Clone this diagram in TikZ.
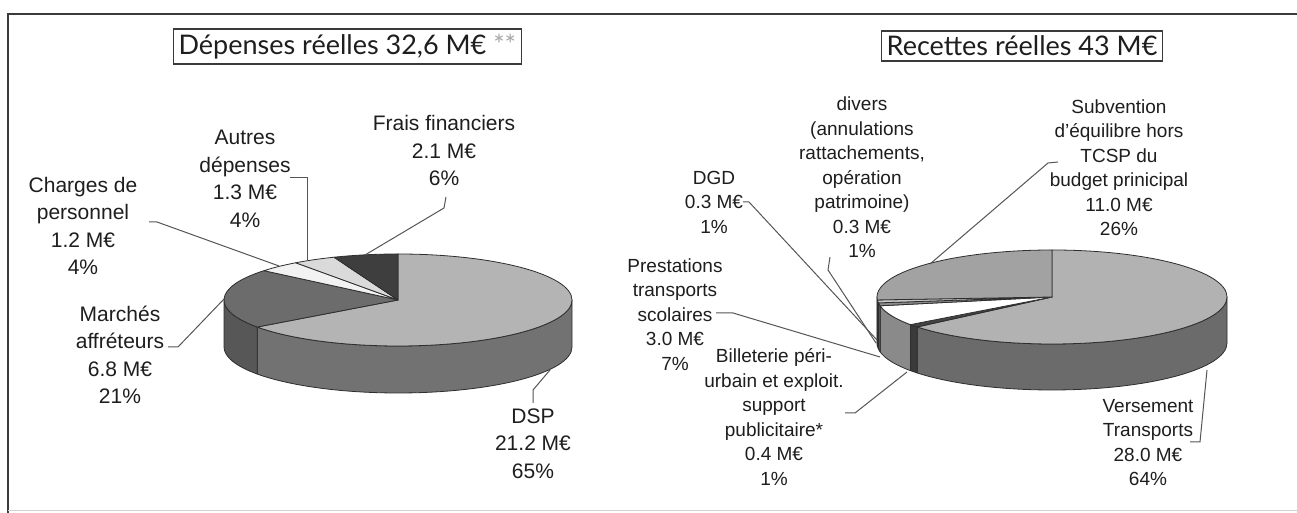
\documentclass[tikz,border=0pt]{standalone}
\usepackage{fontspec}
\setmainfont{Liberation Sans}
\newfontfamily\titlefont{Lato}
\usepackage{xcolor}
\definecolor{ink}{HTML}{1E1E1E}
\definecolor{framec}{HTML}{3A3A3A}
\definecolor{leadc}{HTML}{555555}
\definecolor{edgec}{HTML}{2E2E2E}
\definecolor{dspT}{HTML}{B4B4B4}
\definecolor{dspS}{HTML}{727272}
\definecolor{marT}{HTML}{6C6C6C}
\definecolor{marS}{HTML}{575757}
\definecolor{chgT}{HTML}{F2F2F2}
\definecolor{autT}{HTML}{DADADA}
\definecolor{fraT}{HTML}{3E3E3E}
\definecolor{vtT}{HTML}{B2B2B2}
\definecolor{vtS}{HTML}{6B6B6B}
\definecolor{subT}{HTML}{A2A2A2}
\definecolor{subS}{HTML}{7A7A7A}
\definecolor{preT}{HTML}{FFFFFF}
\definecolor{preS}{HTML}{8A8A8A}
\definecolor{bilT}{HTML}{444444}
\definecolor{bilS}{HTML}{3A3A3A}
\definecolor{dgdT}{HTML}{8C8C8C}
\definecolor{dgdS}{HTML}{666666}
\definecolor{divT}{HTML}{C8C8C8}
\definecolor{divS}{HTML}{777777}

\begin{document}
\begin{tikzpicture}[x=0.5pt,y=0.5pt,
    title box/.style={draw=framec,line width=0.6pt,inner sep=2.5pt,text=ink,font=\titlefont\fontsize{13.5}{16}\selectfont},
    dep text/.style={align=center,inner sep=0pt,text=ink,font=\fontsize{10.5}{13.75}\selectfont},
    rec text/.style={align=center,inner sep=0pt,text=ink,font=\fontsize{9.5}{12.25}\selectfont},
    leader line/.style={draw=leadc,line width=0.5pt},
    rim/.style={draw=edgec,line width=0.4pt,line join=round}]
    \useasboundingbox (0,0) rectangle (1297,513);
    \fill[white] (0,0) rectangle (1297,513);

    % frame
    \draw[framec,line width=1pt] (8,0) -- (8,499) -- (1297,499);
    \draw[gray!35,line width=0.5pt] (8,2) -- (1297,2);

    % titles
    \node[title box,anchor=west] (tdep) at (173,466.5) {Dépenses réelles 32,6 M€ {\color{gray!70}**}};
    \node[title box,anchor=east] (trec) at (1163,467) {Recettes réelles 43 M€};

    % depenses pie
    \begin{scope}[shift={(398,213)}]
        \foreach \a/\b/\col in {-144/0/dspS, 180/216/marS}
            \filldraw[rim,fill=\col] ({174*cos(\a)},{46*sin(\a)}) arc[start angle=\a,end angle=\b,x radius=174,y radius=46]
                -- ++(0,-47) arc[start angle=\b,end angle=\a,x radius=174,y radius=46] -- cycle;
        \foreach \a/\b/\col in {90/-144/dspT, 216/140.4/marT, 140.4/126/chgT, 126/111.6/autT, 111.6/90/fraT}
            \filldraw[rim,fill=\col] (0,0) -- ({174*cos(\a)},{46*sin(\a)}) arc[start angle=\a,end angle=\b,x radius=174,y radius=46] -- cycle;
    \end{scope}

    % recettes pie
    \begin{scope}[shift={(1052,216)}]
        \foreach \a/\b/\col in {-140.4/0/vtS, 216/219.6/bilS, 190.8/216/preS, 187.2/190.8/dgdS, 183.6/187.2/divS, 180/183.6/subS}
            \filldraw[rim,fill=\col] ({175*cos(\a)},{47*sin(\a)}) arc[start angle=\a,end angle=\b,x radius=175,y radius=47]
                -- ++(0,-46) arc[start angle=\b,end angle=\a,x radius=175,y radius=47] -- cycle;
        \foreach \a/\b/\col in {90/-140.4/vtT, 219.6/216/bilT, 216/190.8/preT, 190.8/187.2/dgdT, 187.2/183.6/divT, 183.6/90/subT}
            \filldraw[rim,fill=\col] (0,0) -- ({175*cos(\a)},{47*sin(\a)}) arc[start angle=\a,end angle=\b,x radius=175,y radius=47] -- cycle;
    \end{scope}

    % labels
    \node[dep text] (chg) at (83,287) {Charges de\\personnel\\1.2 M€\\4\%};
    \node[dep text] (aut) at (245,334) {Autres\\dépenses\\1.3 M€\\4\%};
    \node[dep text] (fra) at (444,362) {Frais financiers\\2.1 M€\\6\%};
    \node[dep text] (mar) at (120,158) {Marchés\\affréteurs\\6.8 M€\\21\%};
    \node[dep text] (dsp) at (533,69.5) {DSP\\21.2 M€\\65\%};

    \node[rec text] (div) at (862,335.5) {divers\\(annulations\\rattachements,\\opération\\patrimoine)\\0.3 M€\\1\%};
    \node[rec text] (dgd) at (714,311) {DGD\\0.3 M€\\1\%};
    \node[rec text] (sub) at (1119,345.5) {Subvention\\d'équilibre hors\\TCSP du\\budget prinicipal\\11.0 M€\\26\%};
    \node[rec text] (pre) at (675,198.5) {Prestations\\transports\\scolaires\\3.0 M€\\7\%};
    \node[rec text] (bil) at (774,96) {Billeterie péri-\\urbain et exploit.\\support\\publicitaire*\\0.4 M€\\1\%};
    \node[rec text] (ver) at (1148,70.5) {Versement\\Transports\\28.0 M€\\64\%};

    % leader points
    \coordinate (pChg) at (279,247);
    \coordinate (pAut) at (307,252);
    \coordinate (pFra) at (365,258);
    \coordinate (pMar) at (224,214);
    \coordinate (pDsp) at (550,143);
    \coordinate (pDgd) at (877,173);
    \coordinate (pDiv) at (876,170);
    \coordinate (pSub) at (930,249);
    \coordinate (pPre) at (880,156);
    \coordinate (pBil) at (907,141);
    \coordinate (pVer) at (1207,143);

    \draw[leader line] (149,291) -- (157,291) -- (pChg);
    \draw[leader line] (290,335) -- (307,335) -- (pAut);
    \draw[leader line] (446,316) -- (444,305) -- (pFra);
    \draw[leader line] (168,166) -- (178,166) -- (pMar);
    \draw[leader line] (533,110) -- (533,123) -- (pDsp);
    \draw[leader line] (743,311) -- (749,311) -- (pDgd);
    \draw[leader line] (830,256) -- (828,243) -- (pDiv);
    \draw[leader line] (1058,351) -- (1048,350) -- (pSub);
    \draw[leader line] (716,200) -- (733,200) -- (pPre);
    \draw[leader line] (845,100) -- (855,100) -- (pBil);
    \draw[leader line] (1190,71) -- (1200,71) -- (pVer);
\end{tikzpicture}
\end{document}
